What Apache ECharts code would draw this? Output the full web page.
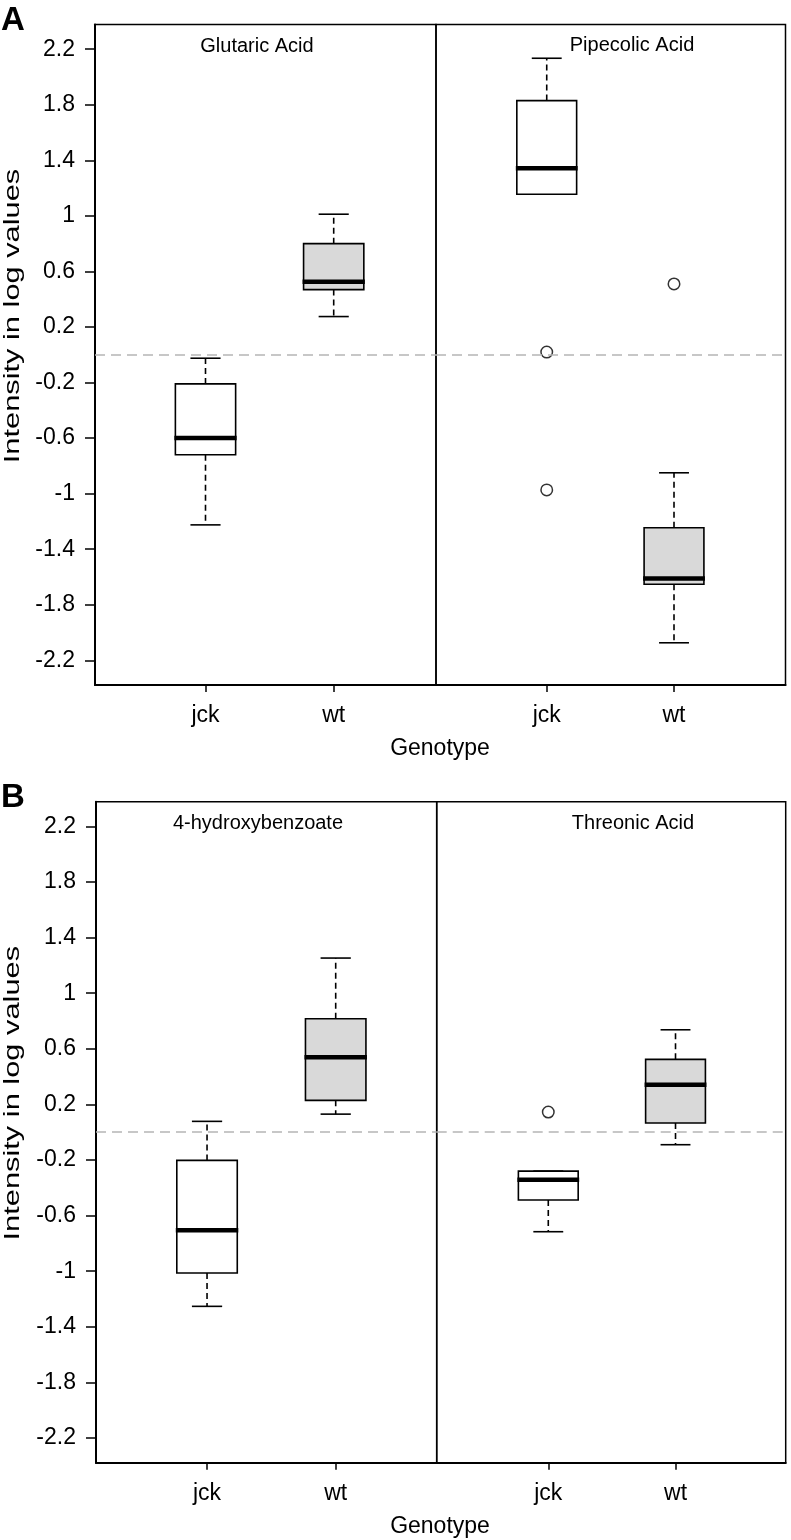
<!DOCTYPE html>
<html>
<head>
<meta charset="utf-8">
<script src="https://cdn.jsdelivr.net/npm/echarts@6/dist/echarts.min.js"></script>
<style>
html,body{margin:0;padding:0;background:#fff;}
#chart{width:791px;height:1540px;}
</style>
</head>
<body>
<div id="chart"></div>
<script>
// ---------- DATA ----------
const genotypes = ['jck', 'wt'];
const metabolites = ['Glutaric Acid', 'Pipecolic Acid', '4-hydroxybenzoate', 'Threonic Acid'];
const panelLetters = ['A', 'B'];
const yTickValues = [-2.2, -1.8, -1.4, -1, -0.6, -0.2, 0.2, 0.6, 1, 1.4, 1.8, 2.2];

// [lower whisker, Q1, median, Q3, upper whisker]
const glutaricJck   = [-1.225, -0.72, -0.60, -0.21, -0.025];
const glutaricWt    = [0.275, 0.469, 0.525, 0.80, 1.012];
const pipecolicJck  = [1.156, 1.156, 1.343, 1.83, 2.135];
const pipecolicWt   = [-2.074, -1.652, -1.611, -1.246, -0.85];
const hydroxyJck    = [-1.253, -1.013, -0.706, -0.203, 0.078];
const hydroxyWt     = [0.13, 0.229, 0.54, 0.816, 1.253];
const threonicJck   = [-0.716, -0.488, -0.342, -0.28, -0.28];
const threonicWt    = [-0.09, 0.066, 0.342, 0.524, 0.737];

// outliers
const glutaricJckOut  = [];
const glutaricWtOut   = [];
const pipecolicJckOut = [0.019, -0.973];
const pipecolicWtOut  = [0.51];
const hydroxyJckOut   = [];
const hydroxyWtOut    = [];
const threonicJckOut  = [0.145];
const threonicWtOut   = [];

// ---------- LAYOUT ----------
const FONT = '"Liberation Sans", Arial, Helvetica, sans-serif';
const Y_MIN = -2.378, Y_MAX = 2.378;
const BOX_WIDTH = 0.47;

const facets = [
  { title: metabolites[0], jck: glutaricJck,  wt: glutaricWt,  jckOut: glutaricJckOut,  wtOut: glutaricWtOut,
    grid: {left: 95, top: 24.5, width: 341, height: 660.5}, xRange: [0.138, 2.798], first: true,
    titlePos: [257, 46] },
  { title: metabolites[1], jck: pipecolicJck, wt: pipecolicWt, jckOut: pipecolicJckOut, wtOut: pipecolicWtOut,
    grid: {left: 436, top: 24.5, width: 349.5, height: 660.5}, xRange: [0.130, 2.876], first: false,
    titlePos: [632, 45] },
  { title: metabolites[2], jck: hydroxyJck,   wt: hydroxyWt,   jckOut: hydroxyJckOut,   wtOut: hydroxyWtOut,
    grid: {left: 96, top: 801.7, width: 340.7, height: 661}, xRange: [0.137, 2.785], first: true,
    titlePos: [258, 823] },
  { title: metabolites[3], jck: threonicJck,  wt: threonicWt,  jckOut: threonicJckOut,  wtOut: threonicWtOut,
    grid: {left: 436.7, top: 801.7, width: 349, height: 661}, xRange: [0.123, 2.866], first: false,
    titlePos: [633, 823] }
];

function renderBox(params, api) {
  const x = api.value(0);
  const lo = api.value(1), q1 = api.value(2), med = api.value(3), q3 = api.value(4), hi = api.value(5);
  const filled = api.value(6) === 1;
  const half = api.size([BOX_WIDTH, 0])[0] / 2;
  const cap = half / 2;
  const pLo = api.coord([x, lo]), pQ1 = api.coord([x, q1]), pMed = api.coord([x, med]);
  const pQ3 = api.coord([x, q3]), pHi = api.coord([x, hi]);
  const cx = pLo[0];
  const solid = {stroke: '#000', lineWidth: 1.6, fill: null};
  const dashed = {stroke: '#000', lineWidth: 1.6, lineDash: [6, 4], fill: null};
  const children = [];
  if (pHi[1] < pQ3[1] - 0.5) children.push({type: 'line', shape: {x1: cx, y1: pQ3[1], x2: cx, y2: pHi[1]}, style: dashed});
  if (pLo[1] > pQ1[1] + 0.5) children.push({type: 'line', shape: {x1: cx, y1: pQ1[1], x2: cx, y2: pLo[1]}, style: dashed});
  children.push({type: 'line', shape: {x1: cx - cap, y1: pHi[1], x2: cx + cap, y2: pHi[1]}, style: solid});
  children.push({type: 'line', shape: {x1: cx - cap, y1: pLo[1], x2: cx + cap, y2: pLo[1]}, style: solid});
  children.push({type: 'rect', shape: {x: cx - half, y: pQ3[1], width: 2 * half, height: pQ1[1] - pQ3[1]},
    style: {fill: filled ? '#d9d9d9' : '#ffffff', stroke: '#000', lineWidth: 1.6}});
  children.push({type: 'line', shape: {x1: cx - half - 1, y1: pMed[1], x2: cx + half + 1, y2: pMed[1]},
    style: {stroke: '#000', lineWidth: 4.5}});
  return {type: 'group', children};
}

const grids = [], xAxes = [], yAxes = [], series = [], graphics = [];

facets.forEach((f, i) => {
  grids.push(Object.assign({show: true, borderColor: '#000', borderWidth: 1.5, backgroundColor: 'transparent'}, f.grid));
  xAxes.push({
    type: 'value', gridIndex: i, min: f.xRange[0], max: f.xRange[1],
    splitLine: {show: false},
    axisLine: {show: true, onZero: false, lineStyle: {color: '#000', width: 2}},
    axisTick: {show: true, length: 7, lineStyle: {color: '#000', width: 1.5}, customValues: [1, 2]},
    axisLabel: {show: true, customValues: [1, 2], margin: 19, fontSize: 23, color: '#000', fontFamily: FONT,
      formatter: v => genotypes[Math.round(v) - 1]}
  });
  yAxes.push({
    type: 'value', gridIndex: i, min: Y_MIN, max: Y_MAX,
    splitLine: {show: false},
    axisLine: {show: f.first, onZero: false, lineStyle: {color: '#000', width: 2}},
    axisTick: {show: f.first, length: 10, lineStyle: {color: '#000', width: 1.5}, customValues: yTickValues},
    axisLabel: {show: f.first, customValues: yTickValues, margin: 20, fontSize: 23, color: '#000', fontFamily: FONT,
      formatter: v => String(v)}
  });
  series.push({
    type: 'custom', xAxisIndex: i, yAxisIndex: i,
    renderItem: renderBox,
    dimensions: ['x', 'lo', 'q1', 'med', 'q3', 'hi', 'fill'],
    encode: {x: 0, y: [1, 2, 3, 4, 5]},
    data: [[1].concat(f.jck, [0]), [2].concat(f.wt, [1])],
    z: 3,
    silent: true,
    markLine: {
      silent: true, symbol: 'none', label: {show: false}, animation: false,
      lineStyle: {color: '#b5b5b5', width: 1.5, type: [10, 6]},
      data: [{yAxis: 0}]
    }
  });
  const outData = f.jckOut.map(v => [1, v]).concat(f.wtOut.map(v => [2, v]));
  series.push({
    type: 'scatter', xAxisIndex: i, yAxisIndex: i,
    symbol: 'circle', symbolSize: 11.5,
    itemStyle: {color: '#fff', borderColor: '#000', borderWidth: 1.5},
    data: outData, z: 4, silent: true
  });
  graphics.push({type: 'text', x: f.titlePos[0], y: f.titlePos[1],
    style: {text: f.title, font: '20px ' + FONT, fill: '#000', textAlign: 'center', textVerticalAlign: 'middle'}});
});

// panel letters, axis titles
const panelOffsets = [0, 777.2];
panelLetters.forEach((L, p) => {
  const dy = panelOffsets[p];
  graphics.push({type: 'text', x: 1, y: 20.5 + dy,
    style: {text: L, font: 'bold 33px ' + FONT, fill: '#000', textAlign: 'left', textVerticalAlign: 'middle'}});
  graphics.push({type: 'text', x: 440, y: 749 + dy,
    style: {text: 'Genotype', font: '23px ' + FONT, fill: '#000', textAlign: 'center', textVerticalAlign: 'middle'}});
  graphics.push({type: 'text', x: 13, y: 316 + dy, rotation: Math.PI / 2, scaleX: 1.4,
    style: {text: 'Intensity in log values', font: '22px ' + FONT, fill: '#000', textAlign: 'center', textVerticalAlign: 'middle'}});
});

const chart = echarts.init(document.getElementById('chart'), null, {renderer: 'canvas'});
chart.setOption({
  animation: false,
  backgroundColor: '#fff',
  grid: grids,
  xAxis: xAxes,
  yAxis: yAxes,
  series: series,
  graphic: graphics
});
</script>
</body>
</html>
